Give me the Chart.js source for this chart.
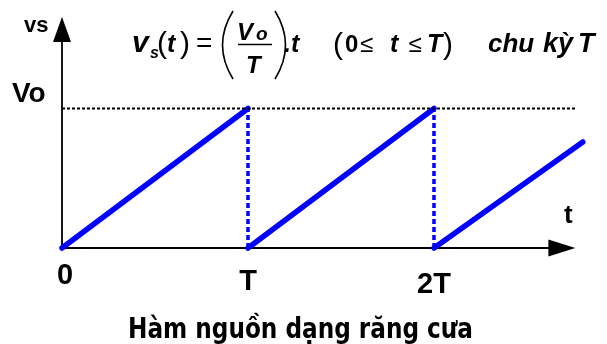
<!DOCTYPE html>
<html>
<head>
<meta charset="utf-8">
<script src="https://cdn.jsdelivr.net/npm/chart.js"></script>
<style>
  html, body { margin: 0; padding: 0; background: #fff; }
  #c { display: block; }
</style>
</head>
<body>
<canvas id="c" width="607" height="344"></canvas>
<script>
// du lieu: rang cua, moi chu ky T
const rampStart = [0, 1, 2];
const rampEnd = [1, 2, 2.8];
const rampEndValue = [1, 1, 0.76];
const dropTimes = [1, 2];
const peakValue = 1;
const tickPos = [0, 1, 2];
const tickLabels = ['0', 'T', '2T'];
const axisEndX = 2.76;
const axisEndY = 1.656;

const rampPts = [];
rampStart.forEach((s, i) => {
  rampPts.push({ x: s, y: 0 });
  rampPts.push({ x: rampEnd[i], y: rampEndValue[i] });
  rampPts.push({ x: rampEnd[i], y: null });
});

const dropPts = [];
dropTimes.forEach(t => {
  dropPts.push({ x: t, y: 0 });
  dropPts.push({ x: t, y: peakValue });
  dropPts.push({ x: t, y: null });
});

const levelPts = [{ x: 0, y: peakValue }, { x: axisEndX, y: peakValue }];

const SANS = '"Liberation Sans", Arial, sans-serif';

function txt(ctx, s, x, y, font, align) {
  ctx.font = font;
  ctx.textAlign = align || 'left';
  ctx.textBaseline = 'alphabetic';
  ctx.fillText(s, x, y);
}

const axesPlugin = {
  id: 'axesPlugin',
  beforeDatasetsDraw(chart) {
    const ctx = chart.ctx;
    const xs = chart.scales.x, ys = chart.scales.y;
    const x0 = xs.getPixelForValue(0), y0 = ys.getPixelForValue(0);
    const xe = xs.getPixelForValue(axisEndX), ye = ys.getPixelForValue(axisEndY);
    ctx.save();
    ctx.strokeStyle = '#000';
    ctx.fillStyle = '#000';
    ctx.lineWidth = 1.8;
    ctx.beginPath();
    ctx.moveTo(x0, y0); ctx.lineTo(xe - 20, y0);
    ctx.moveTo(x0, y0); ctx.lineTo(x0, ye + 20);
    ctx.stroke();
    // mui ten
    ctx.beginPath();
    ctx.moveTo(xe, y0); ctx.lineTo(xe - 27, y0 - 8.5); ctx.lineTo(xe - 27, y0 + 8.5);
    ctx.closePath(); ctx.fill();
    ctx.beginPath();
    ctx.moveTo(x0, ye); ctx.lineTo(x0 - 9, ye + 25); ctx.lineTo(x0 + 9, ye + 25);
    ctx.closePath(); ctx.fill();
    ctx.restore();
  },
  afterDraw(chart) {
    const ctx = chart.ctx;
    const xs = chart.scales.x;
    ctx.save();
    ctx.fillStyle = '#000';
    const B = 'bold 29px ' + SANS;
    // nhan truc
    const tickY = [284, 290, 293];
    tickLabels.forEach((l, i) => {
      let px = xs.getPixelForValue(tickPos[i]);
      if (i === 0) px += 3;
      txt(ctx, l, px, tickY[i], B, 'center');
    });
    txt(ctx, 'vs', 24, 32, 'bold 22px ' + SANS);
    txt(ctx, 'Vo', 12, 102, 'bold 28px ' + SANS);
    txt(ctx, 't', 564, 223, 'bold 26px ' + SANS);

    // cong thuc
    const IB = 'italic bold 25px ' + SANS;
    const P = '30px ' + SANS;
    txt(ctx, 'v', 132, 52, 'italic bold 30px ' + SANS);
    txt(ctx, 's', 150, 58, 'italic bold 16px ' + SANS);
    txt(ctx, '(', 157, 53, P);
    txt(ctx, 't', 167, 52, IB);
    txt(ctx, ')', 180, 53, P);
    txt(ctx, '=', 196, 52, '28px ' + SANS);
    ctx.strokeStyle = '#000';
    ctx.lineWidth = 1.6;
    ctx.beginPath();
    ctx.moveTo(233, 11); ctx.quadraticCurveTo(212, 45, 233, 79);
    ctx.moveTo(275, 11); ctx.quadraticCurveTo(296, 45, 275, 79);
    ctx.stroke();
    txt(ctx, 'V', 237, 40, 'italic bold 24px ' + SANS);
    txt(ctx, 'o', 256, 40, 'italic bold 19px ' + SANS);
    ctx.beginPath();
    ctx.moveTo(238, 44.5); ctx.lineTo(272, 44.5);
    ctx.stroke();
    txt(ctx, 'T', 246, 73, 'italic bold 24px ' + SANS);
    txt(ctx, '.t', 284, 52, IB);
    txt(ctx, '(', 333, 54, P);
    txt(ctx, '0', 345, 52, 'bold 24px ' + SANS);
    txt(ctx, '≤', 366.5, 52, '24px ' + SANS, 'center');
    txt(ctx, 't', 390, 52, IB);
    txt(ctx, '≤', 415, 52, '24px ' + SANS, 'center');
    txt(ctx, 'T', 427, 52, IB);
    txt(ctx, ')', 443, 54, P);
    txt(ctx, 'chu', 488, 52, 'italic bold 26px ' + SANS);
    txt(ctx, 'kỳ', 543, 52, 'italic bold 27px ' + SANS);
    txt(ctx, 'T', 578, 52, 'italic bold 27px ' + SANS);

    // tieu de
    const title = 'Hàm nguồn dạng răng cưa';
    ctx.font = 'bold 28px "Liberation Sans Narrow", "DejaVu Sans Condensed", ' + SANS;
    const w = ctx.measureText(title).width;
    ctx.translate(300.5, 338);
    ctx.scale(345 / w, 1);
    ctx.textAlign = 'center';
    ctx.fillText(title, 0, 0);
    ctx.restore();
  }
};

new Chart(document.getElementById('c'), {
  type: 'scatter',
  data: {
    datasets: [
      {
        data: levelPts,
        showLine: true,
        borderColor: '#000',
        borderWidth: 2.2,
        borderDash: [3, 2],
        pointRadius: 0
      },
      {
        data: dropPts,
        showLine: true,
        borderColor: '#0000ff',
        borderWidth: 3.5,
        borderDash: [5, 3],
        pointRadius: 0
      },
      {
        data: rampPts,
        showLine: true,
        borderColor: '#0000ff',
        borderWidth: 5.5,
        borderCapStyle: 'round',
        pointRadius: 0
      }
    ]
  },
  options: {
    responsive: false,
    animation: false,
    events: [],
    layout: { padding: 0, autoPadding: false },
    plugins: {
      legend: { display: false },
      tooltip: { enabled: false }
    },
    scales: {
      x: { type: 'linear', display: false, min: -62 / 186, max: 545 / 186 },
      y: { type: 'linear', display: false, min: -96 / 139.5, max: 248 / 139.5 }
    }
  },
  plugins: [axesPlugin]
});
</script>
</body>
</html>
